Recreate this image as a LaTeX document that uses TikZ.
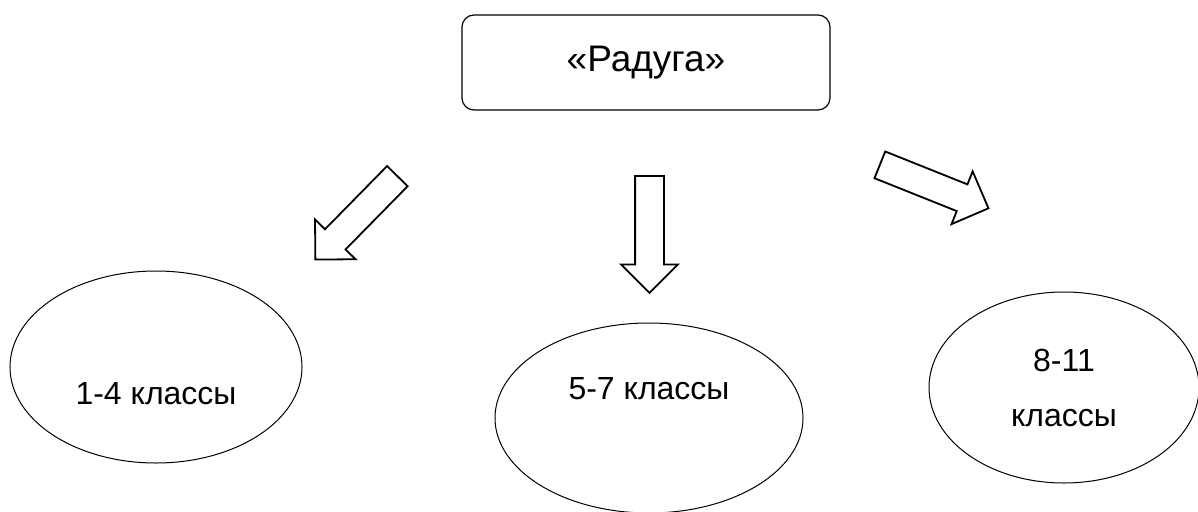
\documentclass[tikz,border=0pt]{standalone}
\usepackage{fontspec}
\setmainfont{Liberation Sans}
\usepackage{tikz}
\usetikzlibrary{shapes.geometric, shapes.arrows, positioning, calc}
\tikzset{
  % top box with the name
  headbox/.style={
    draw
    , line width=1.2pt
    , rounded corners=12pt
    , minimum width=368pt
    , minimum height=95pt
    , anchor=center
    , text centered
    , font=\fontsize{37}{42}\selectfont
  },
}
\tikzset{
  % ellipse for a group of classes
  clsgroup/.style={
    draw
    , ellipse
    , line width=1pt
    , anchor=center
    , align=center
    , inner sep=0pt
    , font=\fontsize{32}{55}\selectfont
  },
}
\tikzset{
  % text inside an ellipse
  clstext/.style={
    inner sep=0pt
    , font=\fontsize{32}{38}\selectfont
  },
}
\tikzset{
  % hollow block arrow
  barr/.style={
    draw
    , single arrow
    , line width=1.8pt
    , minimum height=117pt
    , single arrow head extend=14pt
    , inner sep=13.5pt
    , anchor=tail
  },
}

\begin{document}
\begin{tikzpicture}[x=1pt, y=-1pt]
  \useasboundingbox (0,0) rectangle (1198,511);
  \node[headbox] (rad) at (646,62.5) {«Радуга»};
  % class groups
  \node[clsgroup, minimum width=292pt, minimum height=192pt] (cl1) at (156,367) {};
  \node[clstext] (cl1txt) at ([yshift=-27pt]cl1.center) {1-4 классы};
  \node[clsgroup, minimum width=308pt, minimum height=190pt] (cl2) at (649,418) {};
  \node[clstext] (cl2txt) at ([yshift=29pt]cl2.center) {5-7 классы};
  \node[clsgroup, minimum width=270pt, minimum height=191pt] (cl3) at (1064,387.5) {8-11\\классы};
  % arrows
  \node[barr, rotate=225.5] (arr1) at (398,175.5) {};
  \node[barr, rotate=270] (arr2) at (649.5,175) {};
  \node[barr, rotate=-21.8] (arr3) at (879,164.5) {};
\end{tikzpicture}
\end{document}
